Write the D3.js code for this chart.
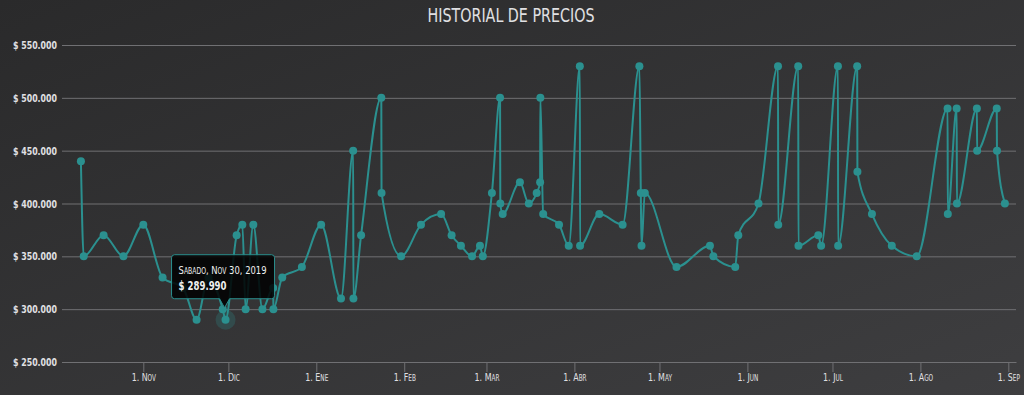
<!DOCTYPE html>
<html>
<head>
<meta charset="utf-8">
<script src="https://cdn.jsdelivr.net/npm/d3@7"></script>
<style>
  html, body { margin: 0; padding: 0; background: #2a2a2b; }
  svg { display: block; }
  text { font-family: 'Liberation Sans Narrow', 'DejaVu Sans Condensed', 'Roboto', sans-serif; }
</style>
</head>
<body>
<div id="chart"></div>
<script>
const titulo = 'HISTORIAL DE PRECIOS';

const fechas = [
  '2019-10-10 00:00', '2019-10-11 00:00', '2019-10-18 00:00', '2019-10-25 00:00', '2019-11-01 00:00',
  '2019-11-07 19:00', '2019-11-15 00:00', '2019-11-19 19:00', '2019-11-24 00:00', '2019-11-29 00:00',
  '2019-11-30 00:00', '2019-12-03 22:00', '2019-12-05 22:00', '2019-12-07 02:00', '2019-12-09 19:00',
  '2019-12-13 00:00', '2019-12-16 19:00', '2019-12-16 21:00', '2019-12-20 00:00', '2019-12-26 22:00',
  '2020-01-02 17:00', '2020-01-09 17:00', '2020-01-14 00:00', '2020-01-14 02:00', '2020-01-16 19:00',
  '2020-01-23 22:00', '2020-01-24 00:00', '2020-01-30 22:00', '2020-02-06 22:00', '2020-02-14 00:00',
  '2020-02-17 17:00', '2020-02-21 00:00', '2020-02-24 22:00', '2020-02-27 17:00', '2020-02-28 17:00',
  '2020-03-02 22:00', '2020-03-05 19:00', '2020-03-05 21:00', '2020-03-06 17:00', '2020-03-12 19:00',
  '2020-03-15 22:00', '2020-03-18 17:00', '2020-03-19 22:00', '2020-03-20 00:00', '2020-03-21 00:00',
  '2020-03-26 14:00', '2020-03-30 00:00', '2020-04-02 22:00', '2020-04-03 00:00', '2020-04-09 19:00',
  '2020-04-18 00:00', '2020-04-23 22:00', '2020-04-24 10:00', '2020-04-24 16:00', '2020-04-25 20:00',
  '2020-05-07 00:00', '2020-05-18 19:00', '2020-05-20 00:00', '2020-05-27 17:00', '2020-05-28 19:00',
  '2020-06-04 22:00', '2020-06-11 19:00', '2020-06-11 21:00', '2020-06-18 22:00', '2020-06-19 00:00',
  '2020-06-26 00:00', '2020-06-27 00:00', '2020-07-02 22:00', '2020-07-03 00:00', '2020-07-09 17:00',
  '2020-07-09 19:00', '2020-07-14 22:00', '2020-07-21 22:00', '2020-07-30 17:00', '2020-08-10 14:00',
  '2020-08-10 16:00', '2020-08-13 19:00', '2020-08-13 21:00', '2020-08-20 22:00', '2020-08-21 00:00',
  '2020-08-27 22:00', '2020-08-28 00:00', '2020-08-30 19:00'
];

const precios = [
  440000, 350000, 370000, 350000, 380000,
  330000, 320000, 290000, 330000, 300000,
  289990, 370000, 380000, 300000, 380000,
  300000, 320000, 300000, 330000, 340000,
  380000, 310000, 450000, 310000, 370000,
  500000, 410000, 350000, 380000, 390000,
  370000, 360000, 350000, 360000, 350000,
  410000, 500000, 400000, 390000, 420000,
  400000, 410000, 420000, 500000, 390000,
  380000, 360000, 530000, 360000, 390000,
  380000, 530000, 410000, 360000, 410000,
  340000, 360000, 350000, 340000, 370000,
  400000, 530000, 380000, 530000, 360000,
  370000, 360000, 530000, 360000, 530000,
  430000, 390000, 360000, 350000, 490000,
  390000, 490000, 400000, 490000, 450000,
  490000, 450000, 400000
];

const yTicks = [250000, 300000, 350000, 400000, 450000, 500000, 550000];
const rangoFechas = ['2019-10-03 08:00', '2020-09-03 17:00'];
const mesesCortos = ['Ene', 'Feb', 'Mar', 'Abr', 'May', 'Jun', 'Jul', 'Ago', 'Sep', 'Oct', 'Nov', 'Dic'];
const diasSemana = ['Domingo', 'Lunes', 'Martes', 'Miércoles', 'Jueves', 'Viernes', 'Sabado'];
const puntoActivo = 10; // sabado 30 nov, el que tiene el tooltip

const width = 1024;
const height = 395;
const margin = { top: 45, right: 8, bottom: 33, left: 62 };
const color = '#2b908f';
const gridColor = '#707073';
const labelColor = '#E0E0E3';

const parse = d3.timeParse('%Y-%m-%d %H:%M');
const data = fechas.map((f, i) => ({ fecha: parse(f), precio: precios[i] }));

const es = d3.formatLocale({ decimal: ',', thousands: '.', grouping: [3], currency: ['$ ', ''] });
const fmtPrecio = es.format('$,.0f');

// aprieta el texto horizontalmente (la fuente original es condensada)
function condensar(sel, factor) {
  sel.each(function () {
    const w = this.getComputedTextLength();
    d3.select(this)
      .attr('textLength', w * factor)
      .attr('lengthAdjust', 'spacingAndGlyphs');
  });
}

const svg = d3.select('#chart').append('svg')
  .attr('width', width)
  .attr('height', height);

// fondo degradado (tema oscuro)
const defs = svg.append('defs');
const grad = defs.append('linearGradient')
  .attr('id', 'fondo')
  .attr('x1', 0).attr('y1', 0).attr('x2', 1).attr('y2', 1);
grad.append('stop').attr('offset', '0%').attr('stop-color', '#2a2a2b');
grad.append('stop').attr('offset', '100%').attr('stop-color', '#3e3e40');

svg.append('rect')
  .attr('width', width)
  .attr('height', height)
  .attr('fill', 'url(#fondo)');

const x = d3.scaleTime()
  .domain(rangoFechas.map(parse))
  .range([margin.left, width - margin.right]);

const y = d3.scaleLinear()
  .domain([250000, 550000])
  .range([height - margin.bottom, margin.top]);

// titulo
svg.append('text')
  .attr('x', 511)
  .attr('y', 22)
  .attr('text-anchor', 'middle')
  .attr('fill', labelColor)
  .style('font-size', '20px')
  .attr('textLength', 167)
  .attr('lengthAdjust', 'spacingAndGlyphs')
  .text(titulo);

// eje y con lineas de grilla
const yAxis = svg.append('g')
  .attr('transform', `translate(${margin.left},0)`)
  .call(d3.axisLeft(y)
    .tickValues(yTicks)
    .tickSize(-(width - margin.left - margin.right))
    .tickPadding(5)
    .tickFormat(fmtPrecio));
yAxis.select('.domain').remove();
yAxis.selectAll('.tick line').attr('stroke', gridColor).attr('stroke-width', 1);
yAxis.selectAll('.tick text')
  .attr('fill', labelColor)
  .style('font-size', '11px')
  .style('font-weight', 'bold')
  .attr('textLength', 44)
  .attr('lengthAdjust', 'spacingAndGlyphs');

// eje x
const xAxis = svg.append('g')
  .attr('transform', `translate(0,${height - margin.bottom})`)
  .call(d3.axisBottom(x)
    .ticks(d3.timeMonth.every(1))
    .tickSize(10)
    .tickSizeOuter(0)
    .tickPadding(1)
    .tickFormat(d => '1. ' + mesesCortos[d.getMonth()]));
xAxis.select('.domain').attr('stroke', gridColor);
xAxis.selectAll('.tick line').attr('stroke', gridColor);
xAxis.selectAll('.tick text')
  .attr('fill', labelColor)
  .style('font-size', '11px')
  .style('font-variant', 'small-caps')
  .call(condensar, 0.8);

// linea
const line = d3.line()
  .x(d => x(d.fecha))
  .y(d => y(d.precio))
  .curve(d3.curveMonotoneX);

svg.append('path')
  .datum(data)
  .attr('fill', 'none')
  .attr('stroke', color)
  .attr('stroke-width', 2)
  .attr('d', line);

svg.append('g')
  .selectAll('circle')
  .data(data)
  .join('circle')
  .attr('cx', d => x(d.fecha))
  .attr('cy', d => y(d.precio))
  .attr('r', 4)
  .attr('fill', color);

// punto activo + tooltip
const activo = data[puntoActivo];
const px = x(activo.fecha);
const py = y(activo.precio);

svg.append('circle')
  .attr('cx', px)
  .attr('cy', py)
  .attr('r', 10)
  .attr('fill', color)
  .attr('opacity', 0.25);

const tip = svg.append('g')
  .attr('transform', `translate(${px},${py})`);

const tw = 103, th = 44, r = 3;
const tx = -54, ty = -65;
const tipPath = [
  `M${tx + r},${ty}`,
  `H${tx + tw - r}`, `Q${tx + tw},${ty} ${tx + tw},${ty + r}`,
  `V${ty + th - r}`, `Q${tx + tw},${ty + th} ${tx + tw - r},${ty + th}`,
  `H4`, `L-1,-12`, `L-6,${ty + th}`,
  `H${tx + r}`, `Q${tx},${ty + th} ${tx},${ty + th - r}`,
  `V${ty + r}`, `Q${tx},${ty} ${tx + r},${ty}`, 'Z'
].join(' ');

tip.append('path')
  .attr('d', tipPath)
  .attr('fill', 'rgba(0,0,0,0.85)')
  .attr('stroke', color)
  .attr('stroke-width', 1);

const f = activo.fecha;
tip.append('text')
  .attr('x', tx + 7)
  .attr('y', ty + 19)
  .attr('fill', '#F0F0F0')
  .style('font-size', '11px')
  .style('font-variant', 'small-caps')
  .attr('textLength', 88)
  .attr('lengthAdjust', 'spacingAndGlyphs')
  .text(`${diasSemana[f.getDay()]}, ${mesesCortos[f.getMonth()]} ${f.getDate()}, ${f.getFullYear()}`);

tip.append('text')
  .attr('x', tx + 7)
  .attr('y', ty + 35)
  .attr('fill', '#F0F0F0')
  .style('font-size', '12px')
  .style('font-weight', 'bold')
  .attr('textLength', 48)
  .attr('lengthAdjust', 'spacingAndGlyphs')
  .text(fmtPrecio(activo.precio));
</script>
</body>
</html>
